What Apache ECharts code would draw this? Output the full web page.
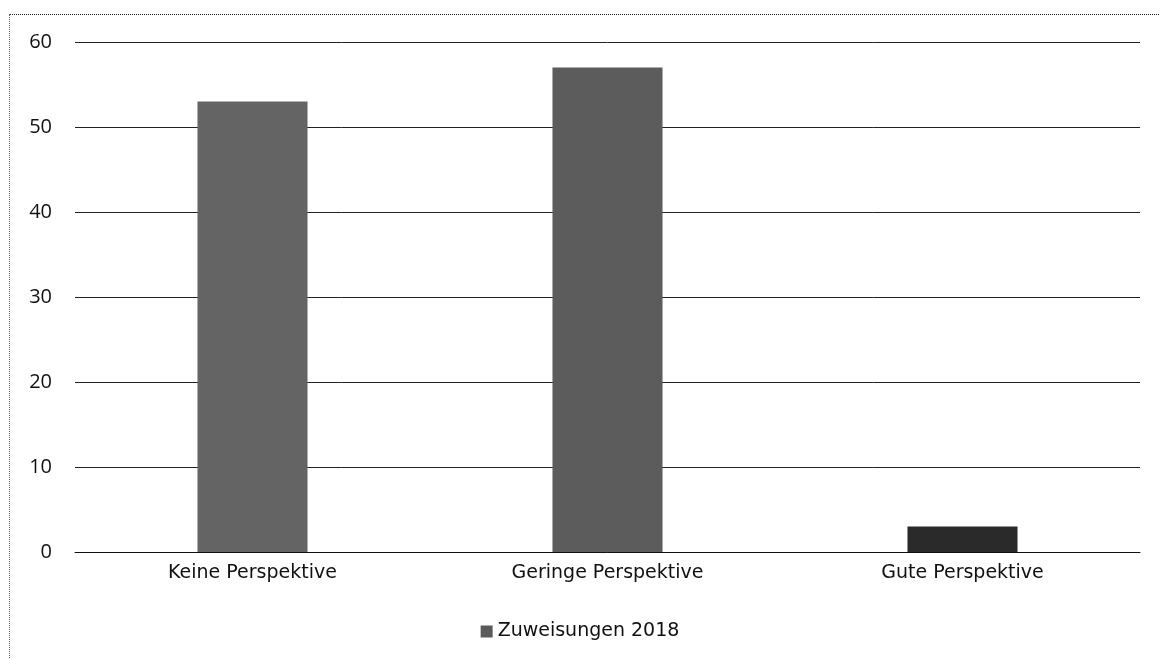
<!DOCTYPE html>
<html>
<head>
<meta charset="utf-8">
<script src="https://cdn.jsdelivr.net/npm/echarts@6/dist/echarts.min.js"></script>
<style>
  html, body { margin: 0; padding: 0; background: #fff; }
  #frame { position: absolute; left: 9px; top: 14px; width: 1151px; height: 645px;
           border-top: 1px dotted #222; border-left: 1px dotted #666; }
  #chart { width: 1160px; height: 659px; }
</style>
</head>
<body>
<div id="frame"></div>
<div id="chart"></div>
<script>
const categories = ['Keine Perspektive', 'Geringe Perspektive', 'Gute Perspektive'];
const values = [53, 57, 3];
const barColors = ['#646464', '#5c5c5c', '#2a2a2a'];
const seriesName = 'Zuweisungen 2018';

const chart = echarts.init(document.getElementById('chart'));
chart.setOption({
  backgroundColor: 'transparent',
  textStyle: { fontFamily: 'DejaVu Sans', color: '#111' },
  grid: { left: 75, right: 20, top: 42, bottom: 107 },
  legend: {
    bottom: 13,
    left: 'center',
    itemWidth: 12,
    itemHeight: 12,
    itemGap: 4,
    icon: 'rect',
    textStyle: { fontSize: 19, color: '#111', fontFamily: 'DejaVu Sans' },
    data: [seriesName],
  },
  xAxis: {
    type: 'category',
    data: categories,
    axisTick: { show: false },
    axisLine: { lineStyle: { color: '#111', width: 1 } },
    axisLabel: { fontSize: 19, color: '#111', margin: 12, fontFamily: 'DejaVu Sans' },
  },
  yAxis: {
    type: 'value',
    min: 0,
    max: 60,
    interval: 10,
    axisLine: { show: false },
    axisTick: { show: false },
    axisLabel: { fontSize: 20, color: '#111', margin: 23, fontFamily: 'Open Sans' },
    splitLine: { lineStyle: { color: '#222', width: 1 } },
  },
  series: [{
    name: seriesName,
    type: 'bar',
    barWidth: '31%',
    itemStyle: { color: '#5a5a5a' },
    data: values.map((v, i) => ({ value: v, itemStyle: { color: barColors[i] } })),
  }],
});
</script>
</body>
</html>
